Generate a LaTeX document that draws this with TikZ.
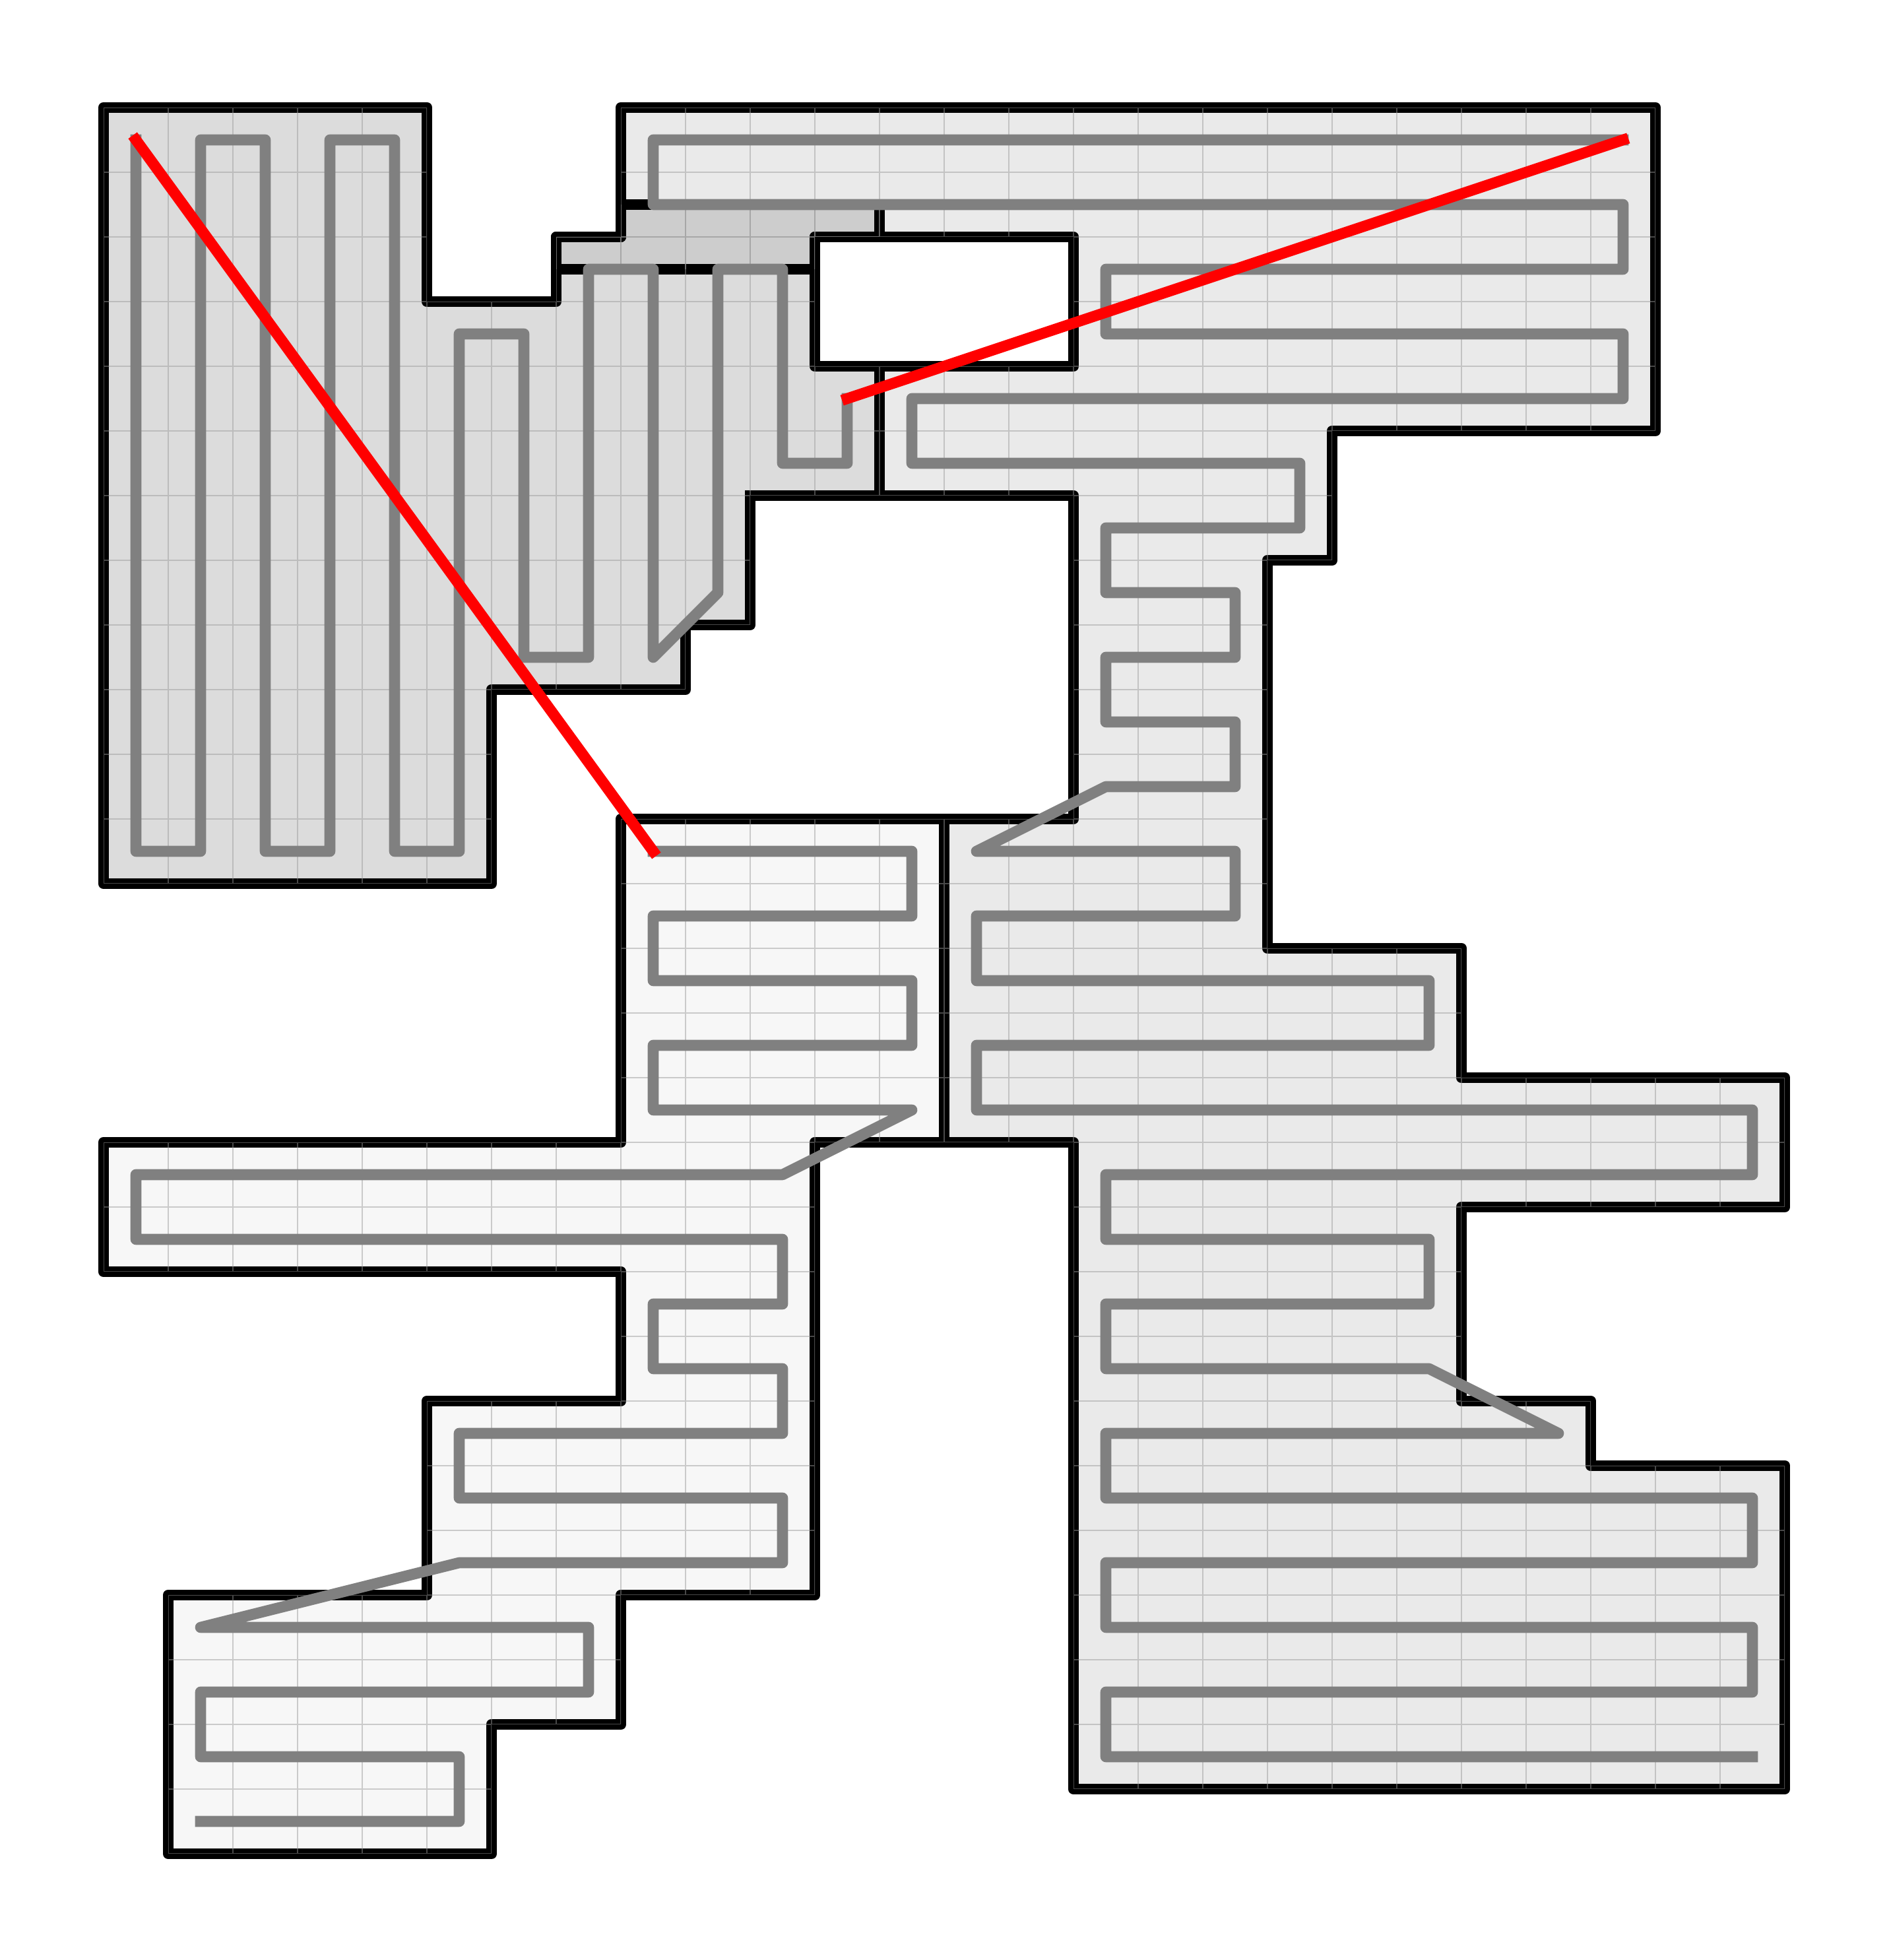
\documentclass[tikz,border=0pt]{standalone}
\definecolor{regdark}{HTML}{DCDCDC}
\definecolor{reglight}{HTML}{EAEAEA}
\definecolor{regpale}{HTML}{F7F7F7}
\definecolor{regover}{HTML}{CDCDCD}
\definecolor{pathgray}{HTML}{808080}
\definecolor{gridgray}{HTML}{999999}
\def\regDark{(10,6) -- (10,8) -- (9,8) -- (9,9) -- (6,9) -- (6,12) -- (0,12) -- (0,0) -- (5,0) -- (5,3) -- (7,3) -- (7,2) -- (8,2) -- (8,1.5) -- (12,1.5) -- (12,2) -- (11,2) -- (11,4) -- (12,4) -- (12,6) -- cycle}
\def\regLight{(8,0) -- (24,0) -- (24,5) -- (19,5) -- (19,7) -- (18,7) -- (18,13) -- (21,13) -- (21,15) -- (26,15) -- (26,17) -- (21,17) -- (21,20) -- (23,20) -- (23,21) -- (26,21) -- (26,26) -- (15,26) -- (15,16) -- (13,16) -- (13,11) -- (15,11) -- (15,6) -- (12,6) -- (12,4) -- (15,4) -- (15,2) -- (11,2) -- (11,2.5) -- (7,2.5) -- (7,2) -- (8,2) -- cycle}
\def\regPale{(8,11) -- (13,11) -- (13,16) -- (11,16) -- (11,23) -- (8,23) -- (8,25) -- (6,25) -- (6,27) -- (1,27) -- (1,23) -- (5,23) -- (5,20) -- (8,20) -- (8,18) -- (0,18) -- (0,16) -- (8,16) -- cycle}
\tikzset{
  wall/.style={draw=black,line width=4.7pt,line join=round},
  gridline/.style={draw=gridgray,line width=0.7pt,opacity=0.47},
  sweep/.style={draw=pathgray,line width=4.75pt,line join=round,line cap=rect},
  cut/.style={draw=red,line width=4.7pt,line cap=rect},
}
\begin{document}
\begin{tikzpicture}
\useasboundingbox (0,0) rectangle (28.62,29.70);
\begin{scope}[shift={(1.57,28.07)},x=0.98cm,y=-0.98cm]
  \fill[regdark] \regDark;
  \fill[reglight] \regLight;
  \fill[regpale] \regPale;
  \fill[regover] (8,1.5) -- (12,1.5) -- (12,2) -- (11,2) -- (11,2.5) -- (7,2.5) -- (7,2) -- (8,2) -- cycle;
  \draw[wall] \regDark;
  \draw[wall] \regLight;
  \draw[wall] \regPale;
  \fill[black] (10,6) ++(-0.0843,-0.0843) rectangle ++(0.1686,0.1686);
  \begin{scope}
    \clip \regDark;
    \draw[gridline] \foreach \i in {0,...,27} {(\i,-1) -- (\i,28) (-1,\i) -- (28,\i)};
  \end{scope}
  \begin{scope}
    \clip \regLight;
    \draw[gridline] \foreach \i in {0,...,27} {(\i,-1) -- (\i,28) (-1,\i) -- (28,\i)};
  \end{scope}
  \begin{scope}
    \clip \regPale;
    \draw[gridline] \foreach \i in {0,...,27} {(\i,-1) -- (\i,28) (-1,\i) -- (28,\i)};
  \end{scope}
  \draw[sweep] (0.5,0.5) -- (0.5,11.5) -- (1.5,11.5) -- (1.5,0.5) -- (2.5,0.5) -- (2.5,11.5) -- (3.5,11.5) -- (3.5,0.5) -- (4.5,0.5) -- (4.5,11.5) -- (5.5,11.5) -- (5.5,3.5) -- (6.5,3.5) -- (6.5,8.5) -- (7.5,8.5) -- (7.5,2.5) -- (8.5,2.5) -- (8.5,8.5) -- (9.5,7.5) -- (9.5,2.5) -- (10.5,2.5) -- (10.5,5.5) -- (11.5,5.5) -- (11.5,4.5);
  \draw[sweep] (23.5,0.5) -- (8.5,0.5) -- (8.5,1.5) -- (23.5,1.5) -- (23.5,2.5) -- (15.5,2.5) -- (15.5,3.5) -- (23.5,3.5) -- (23.5,4.5) -- (12.5,4.5) -- (12.5,5.5) -- (18.5,5.5) -- (18.5,6.5) -- (15.5,6.5) -- (15.5,7.5) -- (17.5,7.5) -- (17.5,8.5) -- (15.5,8.5) -- (15.5,9.5) -- (17.5,9.5) -- (17.5,10.5) -- (15.5,10.5) -- (13.5,11.5) -- (17.5,11.5) -- (17.5,12.5) -- (13.5,12.5) -- (13.5,13.5) -- (20.5,13.5) -- (20.5,14.5) -- (13.5,14.5) -- (13.5,15.5) -- (25.5,15.5) -- (25.5,16.5) -- (15.5,16.5) -- (15.5,17.5) -- (20.5,17.5) -- (20.5,18.5) -- (15.5,18.5) -- (15.5,19.5) -- (20.5,19.5) -- (22.5,20.5) -- (15.5,20.5) -- (15.5,21.5) -- (25.5,21.5) -- (25.5,22.5) -- (15.5,22.5) -- (15.5,23.5) -- (25.5,23.5) -- (25.5,24.5) -- (15.5,24.5) -- (15.5,25.5) -- (25.5,25.5);
  \draw[sweep] (8.5,11.5) -- (12.5,11.5) -- (12.5,12.5) -- (8.5,12.5) -- (8.5,13.5) -- (12.5,13.5) -- (12.5,14.5) -- (8.5,14.5) -- (8.5,15.5) -- (12.5,15.5) -- (10.5,16.5) -- (0.5,16.5) -- (0.5,17.5) -- (10.5,17.5) -- (10.5,18.5) -- (8.5,18.5) -- (8.5,19.5) -- (10.5,19.5) -- (10.5,20.5) -- (5.5,20.5) -- (5.5,21.5) -- (10.5,21.5) -- (10.5,22.5) -- (5.5,22.5) -- (1.5,23.5) -- (7.5,23.5) -- (7.5,24.5) -- (1.5,24.5) -- (1.5,25.5) -- (5.5,25.5) -- (5.5,26.5) -- (1.5,26.5);
  \draw[cut] (0.5,0.5) -- (8.5,11.5);
  \draw[cut] (11.5,4.5) -- (23.5,0.5);
\end{scope}
\end{tikzpicture}
\end{document}
